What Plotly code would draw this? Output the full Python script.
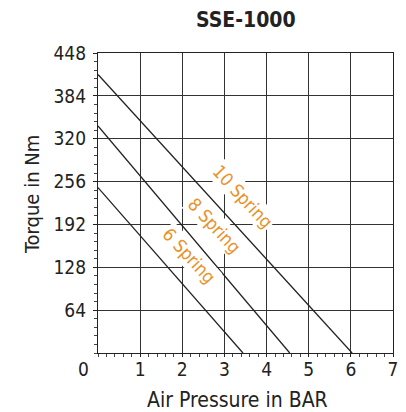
import plotly.graph_objects as go

series_names = ["10 Spring", "8 Spring", "6 Spring"]
x_start = [0, 0, 0]
y_start = [416, 339, 247]
x_end = [6.03, 4.55, 3.44]
y_end = [0, 0, 0]
label_x = [3.44, 2.77, 2.16]
label_y = [234, 191, 145]
y_ticks = [64, 128, 192, 256, 320, 384, 448]
x_ticks = [1, 2, 3, 4, 5, 6, 7]

FONT = "DejaVu Sans Condensed, Roboto, sans-serif"
INK = "#222"
fig = go.Figure()
for i, n in enumerate(series_names):
    fig.add_trace(go.Scatter(x=[x_start[i], x_end[i]], y=[y_start[i], y_end[i]],
                             mode="lines", line=dict(color=INK, width=1.3),
                             showlegend=False, hoverinfo="skip"))
    fig.add_annotation(x=label_x[i], y=label_y[i], text=n, showarrow=False,
                       textangle=47, bgcolor="white", borderpad=1,
                       font=dict(family=FONT, size=18, color="#E8922A"))

fig.add_annotation(x=0, y=0, text="0", showarrow=False, xshift=-15, yshift=-16,
                   font=dict(family=FONT, size=19, color=INK))
fig.add_annotation(xref="paper", yref="paper", x=(240 - 98) / 300, y=-(400 - 353) / 300,
                   text="Air Pressure in BAR", showarrow=False, xanchor="center", yanchor="middle",
                   font=dict(family=FONT, size=21, color=INK))
fig.add_annotation(xref="paper", yref="paper", x=-(98 - 31) / 300, y=(353 - 195) / 300,
                   text="Torque in Nm", showarrow=False, textangle=-90, xanchor="center", yanchor="middle",
                   font=dict(family=FONT, size=20, color=INK))
fig.add_annotation(xref="paper", yref="paper", x=(249 - 98) / 300, y=(353 - 20) / 300,
                   text="<b>SSE-1000</b>", showarrow=False, xanchor="center", yanchor="middle",
                   font=dict(family=FONT, size=21, color=INK))

fig.update_layout(
    width=398, height=404,
    margin=dict(l=90, r=8, t=45, b=59),
    paper_bgcolor="white", plot_bgcolor="white",
    xaxis=dict(range=[0, 7], tickvals=x_ticks, showgrid=True, gridcolor="#333", gridwidth=1,
               showline=True, linecolor=INK, linewidth=1.3, mirror=True,
               ticks="outside", ticklen=3, tickcolor=INK, ticklabelstandoff=-4,
               minor=dict(dtick=0.2, ticks="outside", ticklen=3, tickcolor="#444", showgrid=False),
               tickfont=dict(family=FONT, size=19, color=INK),
               zeroline=False, fixedrange=True),
    yaxis=dict(range=[0, 448], tickvals=y_ticks, showgrid=True, gridcolor="#333", gridwidth=1,
               showline=True, linecolor=INK, linewidth=1.3, mirror=True,
               ticks="outside", ticklen=4, tickcolor=INK, ticklabelstandoff=3,
               minor=dict(dtick=12.8, ticks="outside", ticklen=3, tickcolor="#444", showgrid=False),
               tickfont=dict(family=FONT, size=19, color=INK),
               zeroline=False, fixedrange=True),
)
fig.write_html("out.html")
